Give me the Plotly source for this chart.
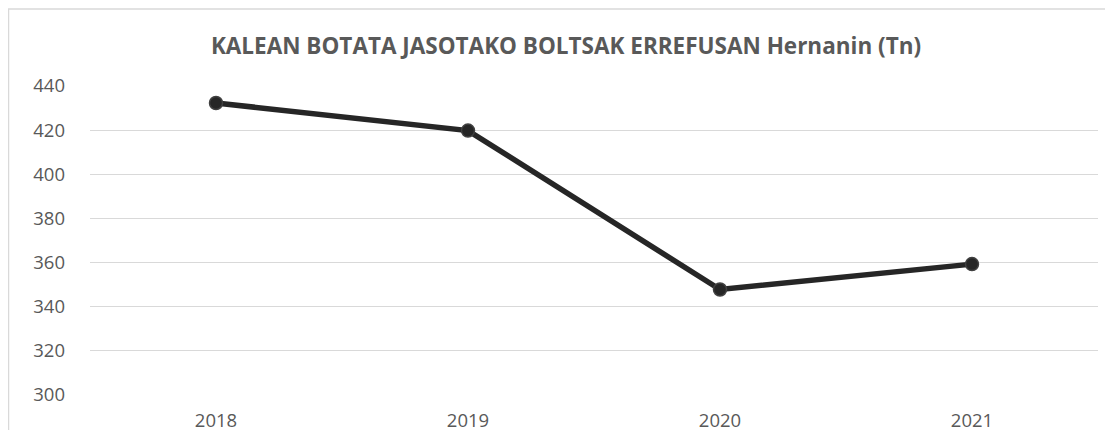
import plotly.graph_objects as go

years = ["2018", "2019", "2020", "2021"]
values = [432.3, 419.8, 347.8, 359.3]
y_ticks = [300, 320, 340, 360, 380, 400, 420, 440]
title_text = "KALEAN BOTATA JASOTAKO BOLTSAK ERREFUSAN Hernanin (Tn)"

# page body has an 8px margin; work in figure pixels = screen pixels - 8
OFF = 8
W, H = 1113 - OFF, 430 - OFF
L, R, T, B = 90 - OFF, W - (1098 - OFF), 86 - OFF, H - (395 - OFF)
pw, ph = W - L - R, H - T - B

def px_x(x):
    return (x - OFF - L) / pw

def px_y(y):
    return (H - B - (y - OFF)) / ph

fig = go.Figure()
fig.add_trace(go.Scatter(
    x=years, y=values, mode="lines+markers",
    line=dict(color="#262626", width=5.5),
    marker=dict(size=13, color="#262626", line=dict(color="#404040", width=1.5)),
    showlegend=False, hoverinfo="skip",
))

fig.update_layout(
    width=W, height=H,
    margin=dict(l=L, r=R, t=T, b=B, autoexpand=False),
    paper_bgcolor="white", plot_bgcolor="white",
    font=dict(family="Open Sans", color="#595959", size=19),
    title=dict(text="<b>" + title_text + "</b>", x=px_x(566), xanchor="center",
               xref="paper", y=1 - (46 - OFF) / H, yanchor="middle",
               font=dict(family="Open Sans", size=22.5, color="#595959")),
    xaxis=dict(type="category", range=[-0.5, 3.5], showgrid=False, zeroline=False,
               showline=False, ticks="", automargin=False,
               tickfont=dict(size=18.5, color="#595959"), ticklabelstandoff=12),
    yaxis=dict(range=[300, 440], tickvals=y_ticks, showgrid=True, gridcolor="#d9d9d9",
               gridwidth=1.3, zeroline=False, showline=False, ticks="", automargin=False,
               tickfont=dict(size=18.5, color="#595959"), ticklabelstandoff=24),
    shapes=[dict(type="rect", xref="paper", yref="paper",
                 x0=px_x(8.6), x1=px_x(1130), y0=px_y(9), y1=px_y(450),
                 line=dict(color="#d9d9d9", width=1.3), fillcolor="rgba(0,0,0,0)",
                 layer="below")],
)

fig.write_html("out.html")
